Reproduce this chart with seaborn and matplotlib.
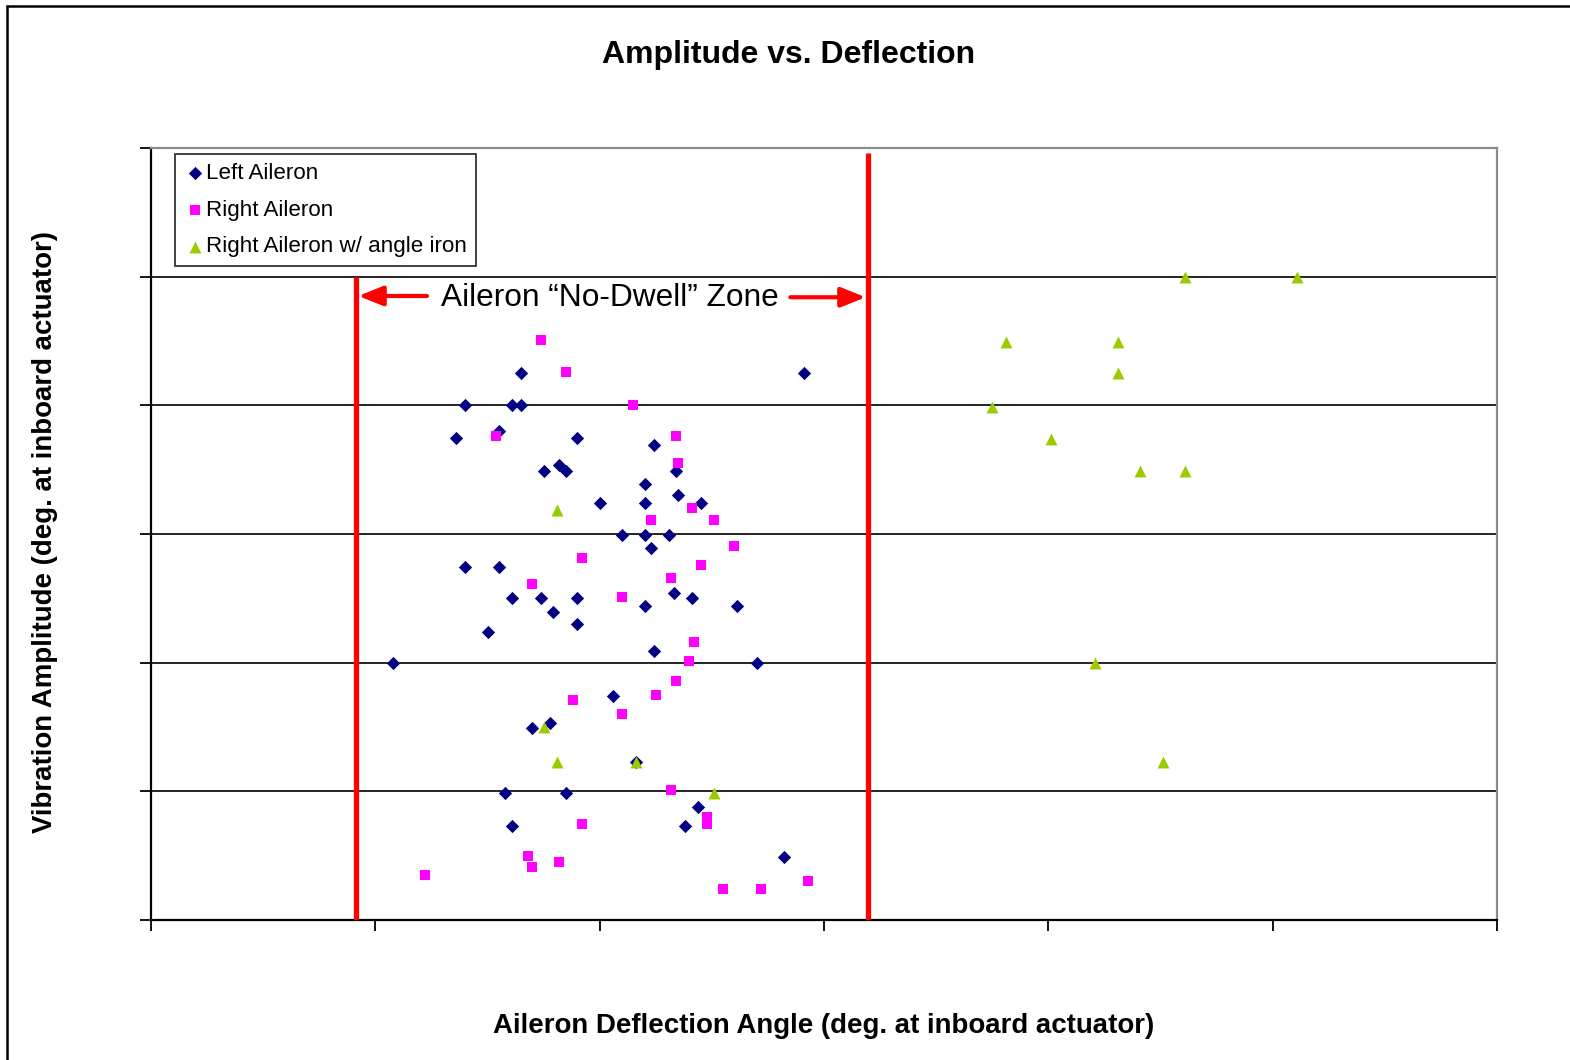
import matplotlib
matplotlib.use("Agg")
import matplotlib.pyplot as plt
from matplotlib.patches import Rectangle
import seaborn as sns
import pandas as pd

# ---------------- data (tick units) ----------------
left_x = [1.65, 2.91, 1.40, 1.61, 1.65, 1.55, 1.36, 1.90, 2.24, 1.82, 1.75, 1.85,
          2.34, 2.20, 2.35, 2.00, 2.20, 2.45, 2.10, 2.20, 2.31, 2.23, 1.40, 1.55,
          1.61, 1.74, 1.90, 2.33, 2.41, 2.20, 2.61, 1.79, 1.50, 1.90, 2.24, 1.08,
          2.70, 2.06, 1.78, 1.70, 2.16, 1.58, 1.85, 2.44, 1.61, 2.38, 2.82]
left_y = [4.25, 4.25, 4.00, 4.00, 4.00, 3.80, 3.75, 3.75, 3.69, 3.54, 3.49, 3.49,
          3.49, 3.39, 3.30, 3.24, 3.24, 3.24, 2.99, 2.99, 2.99, 2.89, 2.74, 2.74,
          2.50, 2.50, 2.50, 2.54, 2.50, 2.44, 2.44, 2.39, 2.24, 2.30, 2.09, 2.00,
          2.00, 1.74, 1.53, 1.49, 1.23, 0.99, 0.99, 0.88, 0.73, 0.73, 0.49]

right_x = [1.74, 1.85, 2.15, 1.54, 2.34, 2.35, 2.41, 2.23, 2.51, 2.60, 1.92, 2.45,
           2.32, 1.70, 2.10, 2.42, 2.40, 2.34, 2.25, 1.88, 2.10, 2.32, 2.48, 2.48,
           1.92, 1.68, 1.70, 1.82, 1.22, 2.55, 2.72, 2.93]
right_y = [4.51, 4.26, 4.00, 3.76, 3.76, 3.55, 3.20, 3.11, 3.11, 2.91, 2.81, 2.76,
           2.66, 2.61, 2.51, 2.16, 2.01, 1.86, 1.75, 1.71, 1.60, 1.01, 0.80, 0.75,
           0.75, 0.50, 0.41, 0.45, 0.35, 0.24, 0.24, 0.30]

iron_x = [1.81, 1.75, 1.81, 2.16, 2.51, 4.61, 5.11, 3.81, 4.31, 4.31, 3.75, 4.01,
          4.41, 4.61, 4.21, 4.51]
iron_y = [3.19, 1.50, 1.23, 1.23, 0.99, 5.00, 5.00, 4.49, 4.49, 4.25, 3.99, 3.74,
          3.49, 3.49, 2.00, 1.23]

series_names = ["Left Aileron", "Right Aileron", "Right Aileron w/ angle iron"]
series_colors = ["#000080", "#FF00FF", "#99CC00"]
series_markers = ["D", "s", "^"]
series_sizes = [46, 54, 74]

zone_left = 0.914
zone_right = 3.196
zone_left_top = 5.0
zone_right_top = 5.96
x_ticks = [0, 1, 2, 3, 4, 5, 6]
y_ticks = [0, 1, 2, 3, 4, 5, 6]

title = "Amplitude vs. Deflection"
x_label = "Aileron Deflection Angle (deg. at inboard actuator)"
y_label = "Vibration Amplitude (deg. at inboard actuator)"
zone_label = "Aileron \u201cNo-Dwell\u201d Zone"

# ---------------- figure ----------------
sns.set_theme(style="white")
plt.rcParams["font.family"] = ["Liberation Sans", "DejaVu Sans"]
plt.rcParams["text.color"] = "black"
plt.rcParams["axes.labelcolor"] = "black"

fig = plt.figure(figsize=(15.7, 10.6), dpi=100)
fig.patch.set_facecolor("white")
ax = fig.add_axes([151 / 1570, 1 - 920 / 1060, (1497 - 151) / 1570, (920 - 148) / 1060])
ax.set_facecolor("white")

# outer frame (only left and top edges visible)
fig.patches.append(Rectangle((7 / 1570, -0.5), 2.0, 1.5 - 6 / 1060,
                             transform=fig.transFigure, fill=False,
                             edgecolor="black", linewidth=1.8, zorder=0))

frames = []
for name, xs, ys in [(series_names[0], left_x, left_y),
                     (series_names[1], right_x, right_y),
                     (series_names[2], iron_x, iron_y)]:
    frames.append(pd.DataFrame({"x": xs, "y": ys, "series": name}))

for df, name, col, mk, sz in zip(frames, series_names, series_colors, series_markers, series_sizes):
    sns.scatterplot(data=df, x="x", y="y", color=col, marker=mk, s=sz,
                    linewidth=0, ax=ax, label=name, zorder=5, clip_on=False)

ax.set_xlim(x_ticks[0], x_ticks[-1])
ax.set_ylim(y_ticks[0], y_ticks[-1])
ax.set_xticks(x_ticks)
ax.set_yticks(y_ticks)
ax.set_xticklabels([])
ax.set_yticklabels([])
ax.tick_params(axis="both", direction="out", length=8, width=1.3, color="black",
               bottom=True, left=True)

for yv in y_ticks[1:-1]:
    ax.axhline(yv, color="black", linewidth=1.2, zorder=1)

for side in ["left", "bottom"]:
    ax.spines[side].set_color("black")
    ax.spines[side].set_linewidth(1.6)
for side in ["top", "right"]:
    ax.spines[side].set_color("#8c8c8c")
    ax.spines[side].set_linewidth(1.6)

# no-dwell zone
ax.plot([zone_left, zone_left], [0, zone_left_top], color="#FF0000", linewidth=3.8, zorder=3,
        solid_capstyle="butt")
ax.plot([zone_right, zone_right], [0, zone_right_top], color="#FF0000", linewidth=3.8, zorder=3,
        solid_capstyle="butt")
arrow_kw = dict(arrowstyle="-|>,head_length=0.75,head_width=0.3", color="#FF0000",
                linewidth=3.0, mutation_scale=20, shrinkA=0, shrinkB=0)
ax.annotate("", xy=(zone_left + 0.01, 4.85), xytext=(1.23, 4.85), arrowprops=arrow_kw, zorder=4)
ax.annotate("", xy=(zone_right - 0.01, 4.84), xytext=(2.85, 4.84), arrowprops=arrow_kw, zorder=4)
ax.text(2.046, 4.835, zone_label, ha="center", va="center", fontsize=22.8, color="black", zorder=4)

# legend
leg = ax.legend(loc="upper left", bbox_to_anchor=(0.0178, 0.992), fontsize=16.1,
                frameon=True, fancybox=False, shadow=False, borderpad=0.4,
                labelspacing=0.7, handletextpad=0.0, handlelength=1.0,
                borderaxespad=0, markerscale=1.0)
leg.get_frame().set_edgecolor("black")
leg.get_frame().set_linewidth(1.3)
leg.set_zorder(6)
for t in leg.get_texts():
    t.set_color("black")

# labels
fig.text(789 / 1570, 1 - 55 / 1060, title, ha="center", va="center",
         fontsize=23, fontweight="bold", color="black")
ax.set_xlabel(x_label, fontsize=19.9, fontweight="bold", color="black")
ax.xaxis.set_label_coords(0.5, (920 - 1026) / 772)
ax.xaxis.label.set_va("center")
ax.set_ylabel(y_label, fontsize=19.9, fontweight="bold", color="black")
ax.yaxis.set_label_coords((45 - 151) / 1346, 0.502)
ax.yaxis.label.set_va("center")

fig.savefig("out.png", dpi=100, facecolor="white")
